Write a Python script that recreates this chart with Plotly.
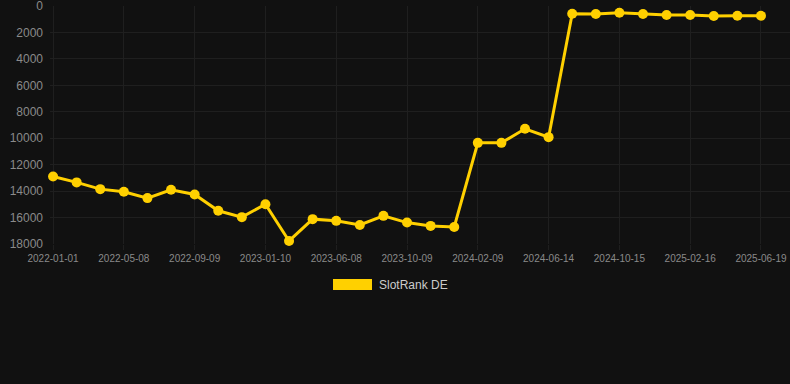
import plotly.graph_objects as go

dates = [
    "2022-01-01", "2022-02-12", "2022-03-26", "2022-05-08", "2022-06-18", "2022-07-29",
    "2022-09-09", "2022-10-20", "2022-11-30", "2023-01-10", "2023-02-28", "2023-04-19",
    "2023-06-08", "2023-07-19", "2023-08-29", "2023-10-09", "2023-11-19", "2023-12-30",
    "2024-02-09", "2024-03-21", "2024-05-03", "2024-06-14", "2024-07-25", "2024-09-04",
    "2024-10-15", "2024-11-25", "2025-01-05", "2025-02-16", "2025-03-29", "2025-05-09",
    "2025-06-19",
]
ranks = [
    12890, 13340, 13850, 14050, 14530, 13900, 14250, 15490, 15970, 14990, 17770,
    16120, 16250, 16560, 15870, 16380, 16630, 16710, 10350, 10350, 9290, 9920,
    580, 610, 510, 610, 680, 680, 760, 740, 740,
]
series_name = "SlotRank DE"
y_ticks = [0, 2000, 4000, 6000, 8000, 10000, 12000, 14000, 16000, 18000]

gold = "#FFD000"
grid = "#1f1f1f"
bg = "#111111"

idx = list(range(len(dates)))
fig = go.Figure()
fig.add_trace(go.Scatter(
    x=idx, y=ranks, mode="lines+markers", name=series_name,
    line=dict(color=gold, width=3),
    marker=dict(color=gold, size=10),
    cliponaxis=False,
    showlegend=False,
))

fig.update_layout(
    width=790, height=384,
    paper_bgcolor=bg, plot_bgcolor=bg,
    margin=dict(l=50, r=0, t=6, b=140),
    font=dict(family="Liberation Sans, Arial, sans-serif", color="#8a8a8a"),
    xaxis=dict(
        range=[-0.13, 31.23],
        tickvals=idx[::3], ticktext=dates[::3],
        tickfont=dict(size=10, color="#8a8a8a"),
        showgrid=True, gridcolor=grid, gridwidth=1,
        zeroline=False, showline=False,
        ticks="outside", ticklen=5, tickcolor=grid,
        ticklabeloverflow="allow",
    ),
    yaxis=dict(
        range=[18000, 0],
        tickvals=y_ticks, ticktext=[str(v) for v in y_ticks],
        tickfont=dict(size=12, color="#8a8a8a"),
        showgrid=True, gridcolor=grid, gridwidth=1,
        zeroline=False, showline=False,
        ticks="", ticklabelstandoff=6,
        ticklabeloverflow="allow",
    ),
)

# legend drawn as a colored box plus label, centered below the plot
fig.add_shape(type="rect", xref="paper", yref="paper",
              x0=(333 - 50) / 740, x1=(372 - 50) / 740,
              y0=-(290 - 244) / 238, y1=-(279 - 244) / 238,
              fillcolor=gold, line=dict(width=0))
fig.add_annotation(xref="paper", yref="paper",
                   x=(377 - 50) / 740, y=-(285 - 244) / 238,
                   xanchor="left", yanchor="middle", showarrow=False,
                   text=series_name, font=dict(size=12, color="#cccccc"))

fig.write_html(
    "out.html",
    config={"displayModeBar": False},
    post_script="document.body.style.margin='0';document.body.style.background='#111111';",
)
